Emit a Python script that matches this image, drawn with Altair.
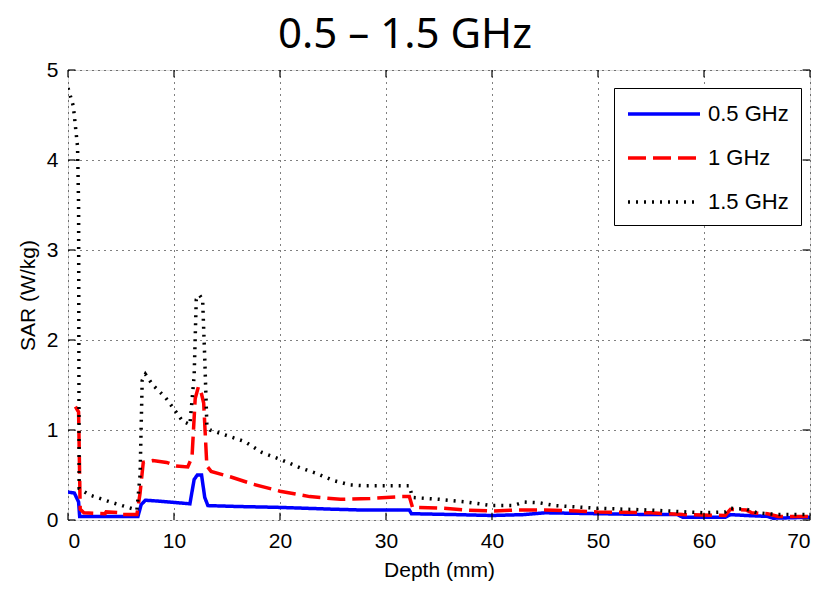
import altair as alt
import pandas as pd

# 0.5 GHz
x_05 = [0, 0.6, 1.0, 1.1, 6.6, 6.9, 7.3, 8.5, 10.5, 11.5, 11.9, 12.2, 12.6, 12.9, 13.2, 16, 20, 25, 28, 32.2, 32.4,
        36.5, 40, 43, 45, 50, 55, 57.5, 58, 62, 62.5, 64, 66, 66.5, 70]
y_05 = [0.31, 0.30, 0.20, 0.04, 0.04, 0.17, 0.22, 0.21, 0.19, 0.18, 0.45, 0.50, 0.50, 0.25, 0.16, 0.15, 0.14, 0.12,
        0.11, 0.11, 0.07, 0.06, 0.05, 0.06, 0.08, 0.07, 0.06, 0.06, 0.03, 0.03, 0.06, 0.05, 0.04, 0.02, 0.03]

# 1 GHz
x_10 = [0.7, 1.0, 1.15, 1.5, 3.5, 3.6, 5, 5.1, 6.5, 6.8, 7.1, 8, 9.3, 10.2, 11.3, 11.7, 12.0, 12.3, 12.6, 12.8, 13.1,
        13.5, 15.3, 17.4, 20, 22.8, 25.7, 28.5, 31.5, 32.2, 32.5, 35.4, 37.7, 40, 42, 45, 48, 50, 55, 58, 62, 62.5,
        64, 64.5, 66, 67, 70]
y_10 = [1.26, 1.20, 0.12, 0.08, 0.07, 0.09, 0.08, 0.06, 0.06, 0.30, 0.64, 0.66, 0.64, 0.60, 0.59, 0.70, 1.35, 1.48,
        1.40, 1.30, 0.60, 0.54, 0.48, 0.40, 0.32, 0.26, 0.23, 0.24, 0.26, 0.26, 0.14, 0.13, 0.11, 0.10, 0.11, 0.11,
        0.10, 0.09, 0.08, 0.06, 0.05, 0.12, 0.11, 0.08, 0.07, 0.04, 0.04]

# 1.5 GHz
x_15 = [0, 0.5, 0.9, 1.0, 1.05, 2, 4, 6.5, 6.8, 7.0, 7.3, 8, 9.2, 10.2, 10.8, 11.5, 11.9, 12.1, 12.4, 12.7, 12.9,
        13.1, 13.4, 15.2, 16.7, 18.3, 20.1, 21.9, 23.4, 25, 26.6, 28, 32.2, 32.5, 35, 37.6, 40, 42, 43, 44.5, 46, 50,
        55, 60, 62, 62.5, 64, 65, 67, 70]
y_15 = [4.80, 4.60, 4.15, 3.50, 0.35, 0.28, 0.20, 0.11, 0.50, 1.55, 1.62, 1.50, 1.36, 1.20, 1.10, 1.06, 1.60, 2.45,
        2.50, 2.45, 1.80, 1.05, 1.00, 0.93, 0.87, 0.75, 0.67, 0.58, 0.52, 0.44, 0.39, 0.38, 0.38, 0.25, 0.23, 0.20,
        0.16, 0.16, 0.20, 0.19, 0.16, 0.13, 0.11, 0.08, 0.09, 0.13, 0.12, 0.08, 0.06, 0.06]

series = ["0.5 GHz", "1 GHz", "1.5 GHz"]
colors = ["#0000ff", "#ff0000", "#000000"]
dashes = [[1, 0], [18, 7], [2, 6]]
widths = [3.5, 3.5, 2]

x_ticks = [0, 10, 20, 30, 40, 50, 60, 70]
y_ticks = [0, 1, 2, 3, 4, 5]

rows = []
for name, xs, ys in zip(series, [x_05, x_10, x_15], [y_05, y_10, y_15]):
    for i, (xv, yv) in enumerate(zip(xs, ys)):
        rows.append({"Depth": xv, "SAR": yv, "Series": name, "idx": i})
df = pd.DataFrame(rows)

FONT = "Liberation Sans"
TFONT = "Noto Sans"

xscale = alt.Scale(domain=[0, 70], nice=False, zero=False)
yscale = alt.Scale(domain=[0, 5], nice=False)

lines = alt.Chart(df).mark_line(clip=True).encode(
    x=alt.X("Depth:Q", scale=xscale,
            axis=alt.Axis(title="Depth (mm)", values=x_ticks, format="d", grid=True, gridDash=[1, 5],
                          gridColor="#000", gridOpacity=1, domain=False, ticks=False, labelFont=FONT,
                          labelFontSize=21, labelColor="#000", labelPadding=10, titleFont=FONT,
                          titleFontSize=21, titleFontWeight="normal", titleColor="#000", titlePadding=8)),
    y=alt.Y("SAR:Q", scale=yscale,
            axis=alt.Axis(title="SAR (W/kg)", values=y_ticks, format="d", grid=True, gridDash=[1, 5],
                          gridColor="#000", gridOpacity=1, domain=False, ticks=False, labelFont=FONT,
                          labelFontSize=21, labelColor="#000", labelPadding=10, titleFont=FONT,
                          titleFontSize=21, titleFontWeight="normal", titleColor="#000", titlePadding=8)),
    color=alt.Color("Series:N", scale=alt.Scale(domain=series, range=colors),
                    legend=alt.Legend(title=None, orient="none", legendX=546, legendY=18,
                                      strokeColor="#000", fillColor="#fff", padding=12,
                                      symbolType="M-5,0H1", symbolSize=576, symbolOffset=48,
                                      labelFont=FONT, labelFontSize=22, labelColor="#000",
                                      rowPadding=19, labelOffset=6)),
    strokeDash=alt.StrokeDash("Series:N", scale=alt.Scale(domain=series, range=dashes)),
    strokeWidth=alt.StrokeWidth("Series:N", scale=alt.Scale(domain=series, range=widths)),
    order="idx:Q",
)

bt = pd.DataFrame({"x": x_ticks, "y": [0] * len(x_ticks), "y2": [0.08] * len(x_ticks)})
tt = pd.DataFrame({"x": x_ticks, "y": [5] * len(x_ticks), "y2": [4.92] * len(x_ticks)})
lt = pd.DataFrame({"y": y_ticks, "x": [0] * len(y_ticks), "x2": [0.7] * len(y_ticks)})
rt = pd.DataFrame({"y": y_ticks, "x": [70] * len(y_ticks), "x2": [69.3] * len(y_ticks)})

def vticks(d):
    return alt.Chart(d).mark_rule(color="#000", strokeWidth=1.2).encode(
        x=alt.X("x:Q", scale=xscale), y=alt.Y("y:Q", scale=yscale), y2="y2:Q")

def hticks(d):
    return alt.Chart(d).mark_rule(color="#000", strokeWidth=1.2).encode(
        y=alt.Y("y:Q", scale=yscale), x=alt.X("x:Q", scale=xscale), x2="x2:Q")

chart = alt.layer(lines, vticks(bt), vticks(tt), hticks(lt), hticks(rt)).properties(
    width=742, height=450,
    autosize="none",
    padding={"left": 68, "top": 70, "right": 18, "bottom": 82},
    title=alt.Title("0.5 – 1.5 GHz", font=TFONT, fontSize=42, fontWeight="normal", color="#000",
                    anchor="middle", dx=-34, offset=2),
).configure_view(stroke="#000", strokeWidth=1.5).configure(background="#fff")

chart.save("out.html", embed_options={"renderer": "svg", "actions": False})
